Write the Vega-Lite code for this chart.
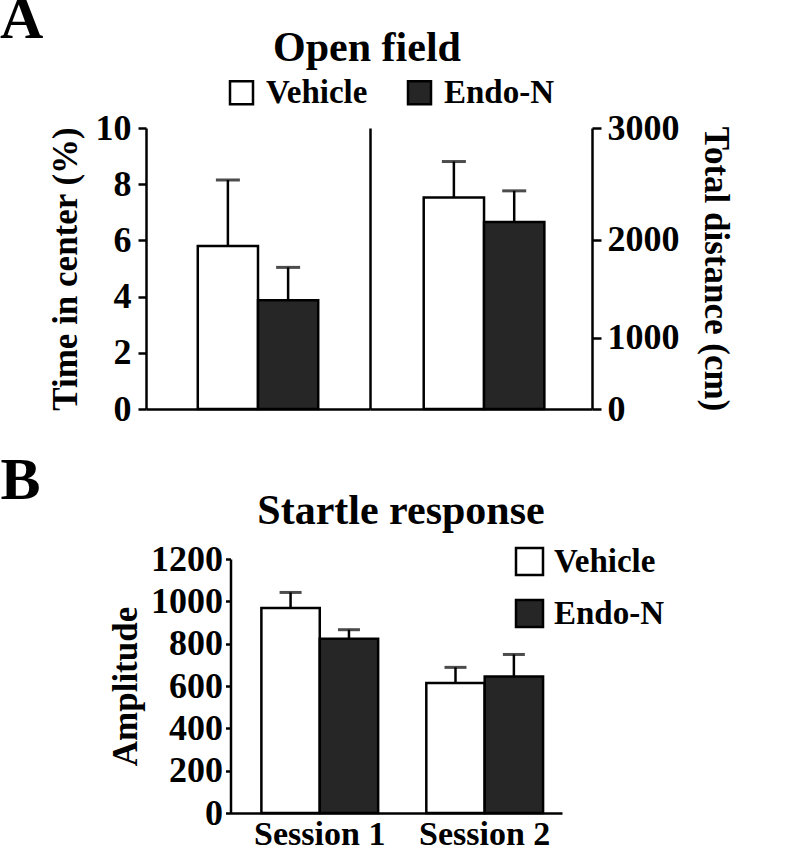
{
  "$schema": "https://vega.github.io/schema/vega-lite/v6.json",
  "padding": {"left": 0, "top": -10, "right": 5, "bottom": 0},
  "background": "white",
  "datasets": {
    "openfield": [
      {"measure": "time", "group": "Vehicle", "mean": 5.8, "upper": 8.15},
      {"measure": "time", "group": "Endo-N", "mean": 3.87, "upper": 5.04},
      {"measure": "distance", "group": "Vehicle", "mean": 2390, "upper": 2710},
      {"measure": "distance", "group": "Endo-N", "mean": 2165, "upper": 2450}
    ],
    "startle": [
      {"session": "Session 1", "group": "Vehicle", "mean": 968, "upper": 1042},
      {"session": "Session 1", "group": "Endo-N", "mean": 823, "upper": 866},
      {"session": "Session 2", "group": "Vehicle", "mean": 614, "upper": 688},
      {"session": "Session 2", "group": "Endo-N", "mean": 645, "upper": 749}
    ]
  },
  "columns": 1,
  "spacing": 24,
  "resolve": {"scale": {"fill": "independent"}},
  "concat": [
    {
      "title": {"text": "A", "anchor": "start", "frame": "bounds", "fontSize": 60, "dx": -48, "dy": 24, "offset": 0},
      "resolve": {"scale": {"fill": "independent"}},
      "vconcat": [
        {
          "title": {"text": "Open field", "fontSize": 42, "anchor": "middle", "offset": 6, "dx": -23},
          "spacing": 0,
          "hconcat": [
            {
              "data": {"name": "openfield"},
              "transform": [{"filter": "datum.measure === 'time'"}],
              "width": 224,
              "height": 281,
              "encoding": {
                "x": {"field": "group", "type": "nominal", "sort": ["Vehicle", "Endo-N"],
                  "scale": {"paddingInner": 0, "paddingOuter": 0.86, "align": 0.5},
                  "axis": {"title": null, "labels": false, "ticks": false}}
              },
              "layer": [
                {
                  "mark": {"type": "bar", "stroke": "black", "strokeWidth": 2.5},
                  "encoding": {
                    "y": {"field": "mean", "type": "quantitative", "scale": {"domain": [0, 10]},
                      "axis": {"title": "Time in center (%)", "values": [0, 2, 4, 6, 8, 10], "format": "d", "tickSize": 8, "labelPadding": 7, "titlePadding": 12}},
                    "fill": {"field": "group", "type": "nominal",
                      "scale": {"domain": ["Vehicle", "Endo-N"], "range": ["#ffffff", "#262626"]},
                      "legend": {"orient": "top", "direction": "horizontal", "title": null, "symbolSize": 529, "labelOffset": 8, "columnPadding": 35, "offset": 0}}
                  }
                },
                {
                  "mark": {"type": "rule", "color": "black", "strokeWidth": 2.5},
                  "encoding": {"y": {"field": "mean", "type": "quantitative"}, "y2": {"field": "upper"}}
                },
                {
                  "mark": {"type": "tick", "color": "black", "thickness": 3, "size": 24},
                  "encoding": {"y": {"field": "upper", "type": "quantitative"}}
                }
              ]
            },
            {
              "data": {"name": "openfield"},
              "transform": [{"filter": "datum.measure === 'distance'"}],
              "width": 222,
              "height": 281,
              "encoding": {
                "x": {"field": "group", "type": "nominal", "sort": ["Vehicle", "Endo-N"],
                  "scale": {"paddingInner": 0, "paddingOuter": 0.84, "align": 0.53},
                  "axis": {"title": null, "labels": false, "ticks": false}}
              },
              "resolve": {"axis": {"y": "independent"}},
              "layer": [
                {
                  "mark": {"type": "bar", "stroke": "black", "strokeWidth": 2.5},
                  "encoding": {
                    "y": {"field": "mean", "type": "quantitative", "scale": {"type": "pow", "exponent": 1.25, "domain": [0, 3000]},
                      "axis": {"orient": "right", "title": "Total distance (cm)", "values": [0, 1000, 2000, 3000], "format": "d", "tickSize": 9, "labelPadding": 6, "titlePadding": 18}},
                    "fill": {"field": "group", "type": "nominal",
                      "scale": {"domain": ["Vehicle", "Endo-N"], "range": ["#ffffff", "#262626"]},
                      "legend": {"orient": "top", "direction": "horizontal", "title": null, "symbolSize": 529, "labelOffset": 8, "columnPadding": 35, "offset": 0}}
                  }
                },
                {
                  "mark": {"type": "rule", "color": "black", "strokeWidth": 2.5},
                  "encoding": {
                    "y": {"field": "mean", "type": "quantitative", "axis": {"orient": "left", "labels": false, "ticks": false, "title": null}},
                    "y2": {"field": "upper"}
                  }
                },
                {
                  "mark": {"type": "tick", "color": "black", "thickness": 3, "size": 24},
                  "encoding": {"y": {"field": "upper", "type": "quantitative", "axis": null}}
                }
              ]
            }
          ]
        }
      ]
    },
    {
      "title": {"text": "B", "anchor": "start", "frame": "bounds", "fontSize": 60, "dx": -108, "dy": 22, "offset": 0},
      "resolve": {"scale": {"fill": "independent"}},
      "vconcat": [
        {
          "data": {"name": "startle"},
          "width": 416,
          "height": 254,
          "title": {"text": "Startle response", "fontSize": 42, "frame": "group", "anchor": "middle", "offset": 8, "dx": 47},
          "encoding": {
            "x": {"field": "session", "type": "nominal",
              "scale": {"range": [84.5, 416], "paddingInner": 0.292, "paddingOuter": 0.151, "align": 0.62},
              "axis": {"title": null, "ticks": false, "labelAngle": 0, "labelPadding": 4, "labelFontSize": 34}},
            "xOffset": {"field": "group", "type": "nominal", "sort": ["Vehicle", "Endo-N"], "scale": {"paddingInner": 0, "paddingOuter": 0}}
          },
          "layer": [
            {
              "mark": {"type": "bar", "stroke": "black", "strokeWidth": 2.5},
              "encoding": {
                "y": {"field": "mean", "type": "quantitative", "scale": {"domain": [0, 1200]},
                  "axis": {"title": "Amplitude", "values": [0, 200, 400, 600, 800, 1000, 1200], "format": "d", "offset": -84.5, "tickSize": 5, "labelPadding": 3, "titlePadding": 7}},
                "fill": {"field": "group", "type": "nominal",
                  "scale": {"domain": ["Vehicle", "Endo-N"], "range": ["#ffffff", "#262626"]},
                  "legend": {"orient": "none", "legendX": 367, "legendY": -14, "direction": "vertical", "title": null, "symbolSize": 729, "labelOffset": 8, "rowPadding": 15}}
              }
            },
            {
              "mark": {"type": "rule", "color": "black", "strokeWidth": 2.5},
              "encoding": {"y": {"field": "mean", "type": "quantitative"}, "y2": {"field": "upper"}}
            },
            {
              "mark": {"type": "tick", "color": "black", "thickness": 3, "size": 22},
              "encoding": {"y": {"field": "upper", "type": "quantitative"}}
            }
          ]
        }
      ]
    }
  ],
  "config": {
    "font": "Liberation Serif",
    "view": {"stroke": null},
    "axis": {
      "grid": false, "domainColor": "black", "domainWidth": 2.5, "tickColor": "black", "tickWidth": 2.5,
      "labelColor": "black", "labelFont": "Liberation Serif", "labelFontWeight": "bold", "labelFontSize": 36,
      "titleFont": "Liberation Serif", "titleFontWeight": "bold", "titleFontSize": 35, "titleColor": "black"
    },
    "legend": {
      "labelFont": "Liberation Serif", "labelFontWeight": "bold", "labelFontSize": 33, "labelColor": "black",
      "symbolType": "square", "symbolStrokeColor": "black", "symbolStrokeWidth": 2.5, "symbolOpacity": 1,
      "layout": {"top": {"anchor": "middle"}}
    },
    "title": {"font": "Liberation Serif", "fontWeight": "bold", "color": "black"}
  }
}
